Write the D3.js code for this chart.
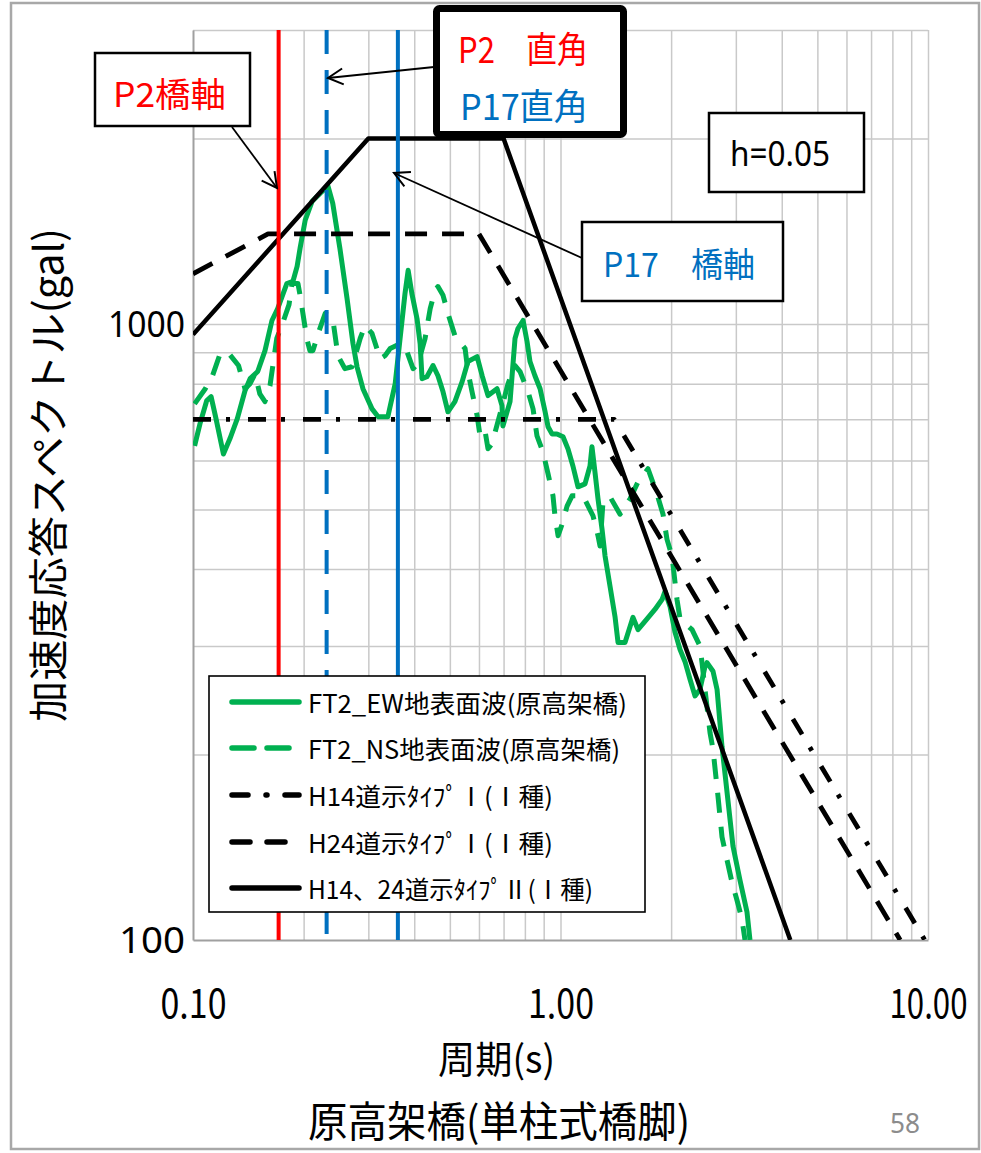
<!DOCTYPE html>
<html>
<head>
<meta charset="utf-8">
<script src="https://cdn.jsdelivr.net/npm/d3@7"></script>
<style>
  html, body { margin: 0; padding: 0; background: #fff; }
  svg { display: block; }
</style>
</head>
<body>
<svg id="chart" width="981" height="1153"></svg>
<script>
// ---- data: period (s) and spectral acceleration (gal) ----
const ewPeriod = [0.101,0.1045,0.109,0.112,0.1155,0.121,0.126,0.132,0.1385,0.143,
  0.150,0.157,0.164,0.170,0.176,0.180,0.187,0.192,0.1956,0.202,
  0.211,0.222,0.233,0.240,0.251,0.2625,0.2725,0.2795,0.290,0.307,
  0.319,0.339,0.355,0.366,0.3775,0.385,0.394,0.407,0.415,0.420,
  0.433,0.450,0.464,0.479,0.494,0.516,0.540,0.560,0.593,0.612,
  0.635,0.672,0.693,0.697,0.729,0.752,0.766,0.791,0.811,0.826,
  0.852,0.880,0.908,0.925,0.948,0.978,1.016,1.048,1.081,1.116,
  1.166,1.203,1.218,1.241,1.265,1.297,1.322,1.364,1.407,1.434,
  1.498,1.575,1.625,1.720,1.807,1.889,1.925,1.986,2.049,2.115,
  2.182,2.251,2.323,2.396,2.473,2.504,2.600,2.667,2.751,2.947,
  3.079,3.217,3.278];
const ewAccel = [634,689,751,762,702,615,651,702,779,815,
  837,905,1013,1059,1121,1163,1172,1240,1327,1474,
  1582,1630,1673,1570,1327,1100,929,852,785,728,
  707,707,800,947,1121,1222,1121,1020,929,815,
  821,856,824,776,720,748,806,869,885,824,
  765,785,737,683,748,947,983,1013,936,869,
  824,785,720,681,663,663,656,627,588,544,
  550,588,632,575,520,465,420,375,335,304,
  304,334,319,332,344,357,368,348,316,296,
  283,265,249,255,278,282,273,255,206,142,
  125,111,100];

const nsPeriod = [0.101,0.108,0.113,0.118,0.124,0.133,0.1385,0.143,0.1475,0.152,
  0.157,0.162,0.169,0.176,0.1825,0.186,0.193,0.1956,0.204,0.208,
  0.212,0.219,0.229,0.240,0.248,0.259,0.271,0.285,0.294,0.307,
  0.323,0.333,0.344,0.366,0.382,0.397,0.4095,0.428,0.442,0.4555,
  0.464,0.479,0.494,0.516,0.550,0.560,0.5745,0.593,0.604,0.623,
  0.635,0.651,0.685,0.720,0.752,0.776,0.816,0.842,0.863,0.896,
  0.925,0.954,0.966,0.985,1.010,1.042,1.075,1.151,1.226,1.265,
  1.281,1.305,1.364,1.452,1.546,1.625,1.730,1.830,1.901,1.949,
  2.011,2.075,2.115,2.280,2.396,2.427,2.473,2.552,2.600,2.683,
  2.751,2.838,2.929,3.022,3.118,3.177];
const nsAccel = [742,785,824,888,902,856,785,800,830,770,
  748,794,947,1009,1075,1163,1163,1113,947,905,
  905,965,1040,1020,888,846,852,947,994,965,
  878,888,912,929,902,846,862,947,1059,1133,
  1150,1113,1040,957,912,837,776,710,658,671,
  627,639,715,800,856,837,776,728,658,620,
  571,526,488,453,473,506,526,526,488,453,
  436,514,524,491,520,554,582,530,491,447,
  420,357,332,319,300,282,255,217,204,171,
  147,135,124,116,108,100];

// design spectra corner points (straight segments on log-log axes)
const h14Type1Period = [0.1, 1.4, 9.8];
const h14Type1Accel  = [700, 700, 100];
const h24Type1Period = [0.1, 0.16, 0.6, 8.4];
const h24Type1Accel  = [1206, 1400, 1400, 100];
const type2Period    = [0.1, 0.3, 0.7, 4.22];
const type2Accel     = [961, 2000, 2000, 100];

// natural periods of the piers: P2 bridge axis, P2/P17 perpendicular, P17 bridge axis
const pierPeriods = [0.171, 0.231, 0.361];

const xTickValues = [0.1, 1, 10];
const yTickValues = [100, 1000];
const xGridValues = [0.2,0.3,0.4,0.5,0.6,0.7,0.8,0.9,1,2,3,4,5,6,7,8,9,10];
const yGridValues = [200,300,400,500,600,700,800,900,1000,2000,3000];

const legendLabels = [
  "FT2_EW地表面波(原高架橋)",
  "FT2_NS地表面波(原高架橋)",
  "H14道示ﾀｲﾌﾟⅠ(Ⅰ種)",
  "H24道示ﾀｲﾌﾟⅠ(Ⅰ種)",
  "H14、24道示ﾀｲﾌﾟⅡ(Ⅰ種)"
];

// ---- layout ----
const JP = '"Noto Sans CJK JP", "Noto Sans", sans-serif';
const plot = { left: 193, right: 928, top: 30, bottom: 940 };
const svg = d3.select('#chart');

const x = d3.scaleLog().domain([0.1, 10]).range([plot.left, plot.right]);
const y = d3.scaleLog().domain([100, 3000]).range([plot.bottom, plot.top]);

// slide frame
svg.append('rect')
  .attr('x', 11).attr('y', 3).attr('width', 968).attr('height', 1146)
  .attr('fill', 'none').attr('stroke', '#a8a8a8').attr('stroke-width', 2.5);

// grid lines
const gridColor = '#c9c9c9';
svg.append('g')
  .attr('transform', `translate(0,${plot.bottom})`)
  .call(d3.axisBottom(x).tickValues(xGridValues).tickFormat('').tickSize(-(plot.bottom - plot.top)))
  .call(g => g.select('.domain').remove())
  .call(g => g.selectAll('line').attr('stroke', gridColor).attr('stroke-width', 1.5));
svg.append('g')
  .attr('transform', `translate(${plot.left},0)`)
  .call(d3.axisLeft(y).tickValues(yGridValues).tickFormat('').tickSize(-(plot.right - plot.left)))
  .call(g => g.select('.domain').remove())
  .call(g => g.selectAll('line').attr('stroke', gridColor).attr('stroke-width', 1.5));

// axis lines + tick labels
const xAxis = svg.append('g')
  .attr('transform', `translate(0,${plot.bottom})`)
  .call(d3.axisBottom(x).tickValues(xTickValues).tickFormat(d3.format('.2f')).tickSize(0));
xAxis.select('.domain').attr('stroke', '#a0a0a0').attr('stroke-width', 2);
xAxis.selectAll('text')
  .attr('y', 64).attr('dy', '0.35em')
  .attr('font-family', JP).attr('font-size', 40).attr('fill', '#000')
  .attr('lengthAdjust', 'spacingAndGlyphs')
  .attr('textLength', d => d >= 10 ? 78 : 66);

const yAxis = svg.append('g')
  .attr('transform', `translate(${plot.left},0)`)
  .call(d3.axisLeft(y).tickValues(yTickValues).tickFormat(d3.format('d')).tickSize(0));
yAxis.select('.domain').attr('stroke', '#a0a0a0').attr('stroke-width', 2);
yAxis.selectAll('text')
  .attr('x', -8).attr('dy', '0.36em')
  .attr('font-family', '"Noto Sans", sans-serif').attr('font-size', 36).attr('fill', '#000')
  .attr('lengthAdjust', 'spacingAndGlyphs')
  .attr('textLength', d => d >= 1000 ? 77 : 66);

// clip for the plotted series
svg.append('defs').append('clipPath').attr('id', 'plotClip')
  .append('rect').attr('x', plot.left).attr('y', plot.top)
  .attr('width', plot.right - plot.left).attr('height', plot.bottom - plot.top);

const line = d3.line().x(d => x(d[0])).y(d => y(d[1]));
const green = '#00b050';
const seriesStyles = [
  { p: ewPeriod,       a: ewAccel,       color: green,  width: 5,   dash: null },
  { p: nsPeriod,       a: nsAccel,       color: green,  width: 5,   dash: '20,14' },
  { p: h14Type1Period, a: h14Type1Accel, color: '#000', width: 4.8, dash: '18,15,4,18' },
  { p: h24Type1Period, a: h24Type1Accel, color: '#000', width: 4.8, dash: '22,15' },
  { p: type2Period,    a: type2Accel,    color: '#000', width: 4.5, dash: null }
];

const seriesG = svg.append('g').attr('clip-path', 'url(#plotClip)');
seriesStyles.forEach(s => {
  seriesG.append('path')
    .datum(d3.zip(s.p, s.a))
    .attr('d', line)
    .attr('fill', 'none')
    .attr('stroke', s.color)
    .attr('stroke-width', s.width)
    .attr('stroke-linejoin', 'round')
    .attr('stroke-dasharray', s.dash);
});

// pier period markers
const pierStyles = [
  { color: '#ff0000', dash: null },
  { color: '#0070c0', dash: '24,16' },
  { color: '#0070c0', dash: null }
];
svg.append('g').selectAll('line').data(pierPeriods).join('line')
  .attr('x1', d => x(d)).attr('x2', d => x(d))
  .attr('y1', plot.top).attr('y2', plot.bottom)
  .attr('stroke', (d, i) => pierStyles[i].color)
  .attr('stroke-width', 4)
  .attr('stroke-dasharray', (d, i) => pierStyles[i].dash);

// arrow head
svg.select('defs').append('marker')
  .attr('id', 'arrowHead').attr('markerUnits', 'userSpaceOnUse')
  .attr('viewBox', '0 0 20 20').attr('markerWidth', 20).attr('markerHeight', 20)
  .attr('refX', 18).attr('refY', 10).attr('orient', 'auto')
  .append('path').attr('d', 'M3,2 L18,10 L3,18')
  .attr('fill', 'none').attr('stroke', '#000').attr('stroke-width', 2);

function arrow(x1, y1, x2, y2) {
  svg.append('line').attr('x1', x1).attr('y1', y1).attr('x2', x2).attr('y2', y2)
    .attr('stroke', '#000').attr('stroke-width', 1.8)
    .attr('marker-end', 'url(#arrowHead)');
}
function box(x0, y0, w, h, sw) {
  svg.append('rect').attr('x', x0).attr('y', y0).attr('width', w).attr('height', h)
    .attr('rx', sw > 4 ? 3 : 0)
    .attr('fill', '#fff').attr('stroke', '#000').attr('stroke-width', sw);
}
function label(txt, x0, cy, size, len, color, family, g) {
  return (g || svg).append('text')
    .attr('x', x0).attr('y', cy)
    .attr('dominant-baseline', 'central')
    .attr('font-family', family || JP).attr('font-size', size)
    .attr('fill', color || '#000')
    .attr('textLength', len).attr('lengthAdjust', 'spacingAndGlyphs')
    .text(txt);
}

// annotations
arrow(232, 127, 277, 188);
box(95, 53, 155, 73, 2.5);
label('P2橋軸', 113, 92, 34, 113, '#ff0000');

arrow(434, 67, 328, 78);
box(436.5, 8.5, 187, 126, 7);
label('P2　直角', 458, 47, 36, 130, '#ff0000');
label('P17直角', 460, 104, 36, 128, '#0070c0');

arrow(582, 258, 394, 173);
box(582, 222, 201, 79, 2.5);
label('P17　橋軸', 603, 262, 34, 152, '#0070c0');

box(709, 113, 155, 79, 2.5);
label('h=0.05', 730, 153, 34, 100, '#000', '"Noto Sans", sans-serif');

// legend
const legend = svg.append('g');
legend.append('rect').attr('x', 209).attr('y', 676).attr('width', 436).attr('height', 236)
  .attr('fill', '#fff').attr('stroke', '#000').attr('stroke-width', 1.6);
const legendRowY = [702, 748, 795, 842, 888];
const legendTextLen = [319, 312, 245, 245, 285];
const legendDash = [null, '22,13', '16,18,1,18,20', '18,17', null];
legendLabels.forEach((t, i) => {
  const s = seriesStyles[i];
  legend.append('line')
    .attr('x1', 232).attr('x2', 299).attr('y1', legendRowY[i]).attr('y2', legendRowY[i])
    .attr('stroke', s.color).attr('stroke-width', 5.5).attr('stroke-linecap', 'round')
    .attr('stroke-dasharray', legendDash[i]);
  label(t, 308, legendRowY[i], 25, legendTextLen[i], '#000', JP, legend);
});

// axis titles
svg.append('text')
  .attr('transform', 'translate(46,722) rotate(-90)')
  .attr('dominant-baseline', 'central')
  .attr('font-family', JP).attr('font-size', 40).attr('fill', '#000')
  .attr('textLength', 494).attr('lengthAdjust', 'spacingAndGlyphs')
  .text('加速度応答スペクトル(gal)');
label('周期(s)', 438, 1056, 38, 117);
label('原高架橋(単柱式橋脚)', 308, 1118, 42, 382);
label('58', 890, 1122, 28, 30, '#8c8c8c', '"Noto Sans", sans-serif');
</script>
</body>
</html>
